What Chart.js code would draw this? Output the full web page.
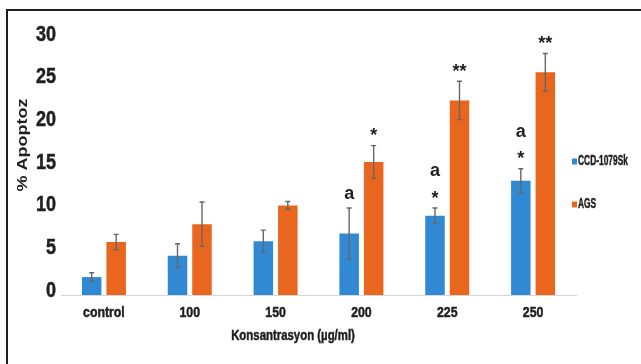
<!DOCTYPE html>
<html>
<head>
<meta charset="utf-8">
<script src="https://cdn.jsdelivr.net/npm/chart.js@4.4.1/dist/chart.umd.min.js"></script>
<style>
  html, body { margin: 0; padding: 0; background: #fff; }
  #wrap { position: relative; width: 641px; height: 364px; overflow: hidden; }
  #wrap canvas { position: absolute; left: 0; top: 0; }
  #frame {
    position: absolute; left: 6px; top: 9px; right: -4px; bottom: -4px;
    border-top: 2px solid #1e1e1e; border-left: 2px solid #1e1e1e;
    pointer-events: none;
  }
</style>
</head>
<body>
<div id="wrap">
  <canvas id="chart" width="641" height="364"></canvas>
  <div id="frame"></div>
</div>
<script>
// Apoptosis (%) by concentration for two cell lines, mean ± error
const categories = ['control', '100', '150', '200', '225', '250'];
const seriesNames = ['CCD-1079Sk', 'AGS'];
const ccdValues = [2.1, 4.6, 6.3, 7.2, 9.3, 13.4];
const ccdErrors = [0.5, 1.4, 1.3, 3.0, 0.9, 1.4];
const agsValues = [6.2, 8.3, 10.5, 15.6, 22.8, 26.1];
const agsErrors = [0.9, 2.6, 0.45, 1.9, 2.25, 2.2];
// significance marks drawn over each bar
const ccdStars = ['', '', '', '', '*', '*'];
const ccdLetters = ['', '', '', 'a', 'a', 'a'];
const agsStars = ['', '', '', '*', '**', '**'];
const agsLetters = ['', '', '', '', '', ''];
const yTicks = [0, 5, 10, 15, 20, 25, 30];
const xTitle = 'Konsantrasyon (µg/ml)';
const yTitle = '% Apoptoz';

const BLUE = '#3189d3';
const ORANGE = '#e9661f';
const INK = '#1f1f1f';
const SANS = '"Liberation Sans", Arial, sans-serif';
const SQUEEZE = 0.82; // condensed look for the axis text

const errors = [ccdErrors, agsErrors];
const stars = [ccdStars, agsStars];
const letters = [ccdLetters, agsLetters];

// draw a heavy string horizontally condensed around (x, y)
function squeezedText(ctx, text, x, y, font, align, sx) {
  ctx.save();
  ctx.font = font;
  ctx.textAlign = align;
  ctx.textBaseline = 'middle';
  ctx.fillStyle = INK;
  ctx.strokeStyle = INK;
  ctx.lineWidth = 0.5;
  ctx.translate(x, y);
  ctx.scale(sx, 1);
  ctx.fillText(text, 0, 0);
  ctx.strokeText(text, 0, 0);
  ctx.restore();
}

// vertical error bars with small caps
const errorBars = {
  id: 'errorBars',
  afterDatasetsDraw(chart) {
    const { ctx, scales: { y } } = chart;
    ctx.save();
    ctx.strokeStyle = '#666666';
    ctx.lineWidth = 1.4;
    chart.data.datasets.forEach((ds, di) => {
      const meta = chart.getDatasetMeta(di);
      meta.data.forEach((bar, i) => {
        const v = ds.data[i], e = errors[di][i];
        const top = y.getPixelForValue(v + e);
        const bot = y.getPixelForValue(v - e);
        ctx.beginPath();
        ctx.moveTo(bar.x, top); ctx.lineTo(bar.x, bot);
        ctx.moveTo(bar.x - 2.5, top); ctx.lineTo(bar.x + 2.5, top);
        ctx.moveTo(bar.x - 2.5, bot); ctx.lineTo(bar.x + 2.5, bot);
        ctx.stroke();
      });
    });
    ctx.restore();
  }
};

// '*' / '**' and 'a' labels stacked above the error bars
const sigMarks = {
  id: 'sigMarks',
  afterDatasetsDraw(chart) {
    const { ctx, scales: { y } } = chart;
    ctx.save();
    ctx.fillStyle = INK;
    ctx.textAlign = 'center';
    ctx.textBaseline = 'alphabetic';
    ctx.font = 'bold 18px ' + SANS;
    chart.data.datasets.forEach((ds, di) => {
      const meta = chart.getDatasetMeta(di);
      meta.data.forEach((bar, i) => {
        const errTop = y.getPixelForValue(ds.data[i] + errors[di][i]);
        const s = stars[di][i], a = letters[di][i];
        let base = errTop - 4.3;
        if (s) {
          ctx.fillText(s, bar.x, base);
          base -= 27.4;
        } else {
          base = errTop - 9.3;
        }
        if (a) ctx.fillText(a, bar.x, base);
      });
    });
    ctx.restore();
  }
};

// condensed tick labels placed on the chart's own scales
const tickLabels = {
  id: 'tickLabels',
  afterDraw(chart) {
    const { ctx, scales: { x, y } } = chart;
    y.ticks.forEach((t, i) => {
      const py = y.getPixelForTick(i);
      squeezedText(ctx, String(t.value), y.right - 5, py - 4.5, 'bold 22px ' + SANS, 'right', SQUEEZE);
    });
    x.ticks.forEach((t, i) => {
      const px = x.getPixelForTick(i);
      squeezedText(ctx, categories[i], px, x.top + 17.5, 'bold 15px ' + SANS, 'center', SQUEEZE);
    });
  }
};

// axis titles and the side legend
const annotations = {
  id: 'annotations',
  afterDraw(chart) {
    const { ctx, chartArea } = chart;
    ctx.save();

    // x title
    squeezedText(ctx, xTitle, chartArea.left + 232, chartArea.bottom + 41, 'bold 15px ' + SANS, 'center', 0.76);

    // y title (rotated)
    ctx.save();
    ctx.font = 'bold 18px ' + SANS;
    ctx.fillStyle = INK;
    ctx.textAlign = 'center';
    ctx.textBaseline = 'middle';
    ctx.translate(chartArea.left - 37.5, 145);
    ctx.scale(0.8, 1);
    ctx.rotate(-Math.PI / 2);
    ctx.fillText(yTitle, 0, 0);
    ctx.restore();

    // legend
    const colors = [BLUE, ORANGE];
    seriesNames.forEach((name, i) => {
      const cy = 160.5 + 43 * i;
      const lx = chartArea.right - 4;
      ctx.fillStyle = colors[i];
      ctx.fillRect(lx, cy - 2, 5, 6);
      squeezedText(ctx, name, lx + 6, cy, 'bold 15px ' + SANS, 'left', 0.56);
    });
    ctx.restore();
  }
};

new Chart(document.getElementById('chart'), {
  type: 'bar',
  data: {
    labels: categories,
    datasets: [
      { label: seriesNames[0], data: ccdValues, backgroundColor: BLUE, categoryPercentage: 0.571, barPercentage: 0.796 },
      { label: seriesNames[1], data: agsValues, backgroundColor: ORANGE, categoryPercentage: 0.571, barPercentage: 0.796 }
    ]
  },
  options: {
    responsive: false,
    animation: false,
    devicePixelRatio: 1,
    layout: { padding: { left: 0, top: 39, right: 65, bottom: 0 } },
    plugins: { legend: { display: false }, tooltip: { enabled: false } },
    scales: {
      x: {
        grid: { display: false, drawTicks: false },
        border: { display: true, color: '#d6d6d6', width: 1 },
        ticks: { display: false },
        afterFit(s) { s.height = 69; }
      },
      y: {
        min: 0, max: 30,
        afterBuildTicks(s) { s.ticks = yTicks.map(v => ({ value: v })); },
        grid: { display: false, drawTicks: false },
        border: { display: false },
        ticks: { display: false },
        afterFit(s) { s.width = 61; }
      }
    }
  },
  plugins: [errorBars, sigMarks, tickLabels, annotations]
});
</script>
</body>
</html>
